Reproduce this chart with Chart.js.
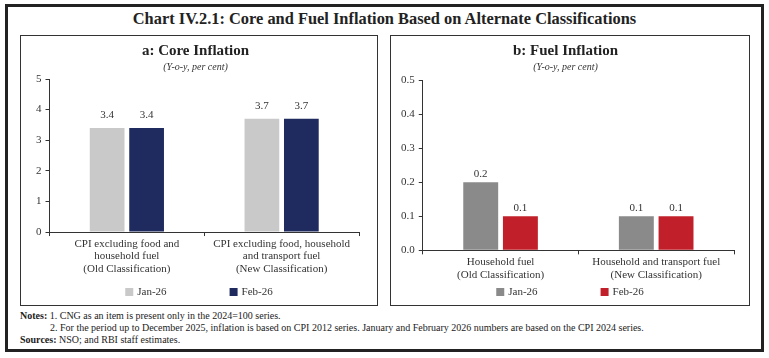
<!DOCTYPE html>
<html>
<head>
<meta charset="utf-8">
<script src="https://cdn.jsdelivr.net/npm/chart.js@4.4.1/dist/chart.umd.min.js"></script>
<style>
  body { margin: 0; background: #fff; font-family: "Liberation Serif", serif; color: #222; }
  #page { position: relative; width: 769px; height: 358px; }
  #frame { position: absolute; left: 5px; top: 4px; width: 759px; height: 348px; border: 3px solid #222; box-sizing: border-box; }
  #mainTitle { position: absolute; left: 0; width: 769px; top: 9px; text-align: center; font-weight: bold; font-size: 16.4px; }
  .panel { position: absolute; top: 35px; height: 271px; border: 1px solid #333; box-sizing: border-box; }
  #panelA { left: 20px; width: 358px; }
  #panelB { left: 390px; width: 360px; }
  .panel canvas { position: absolute; left: 0; top: 0; }
  .note { position: absolute; font-size: 10px; white-space: nowrap; }
  .note b { font-weight: bold; }
</style>
</head>
<body>
<div id="page">
  <div id="frame"></div>
  <div id="mainTitle">Chart IV.2.1: Core and Fuel Inflation Based on Alternate Classifications</div>
  <div class="panel" id="panelA"><canvas id="coreChart" width="356" height="269"></canvas></div>
  <div class="panel" id="panelB"><canvas id="fuelChart" width="358" height="269"></canvas></div>
  <div class="note" style="left:20px; top:310px;"><b>Notes:</b> 1. CNG as an item is present only in the 2024=100 series.</div>
  <div class="note" style="left:50px; top:322px;">2. For the period up to December 2025, inflation is based on CPI 2012 series. January and February 2026 numbers are based on the CPI 2024 series.</div>
  <div class="note" style="left:20px; top:334px;"><b>Sources:</b> NSO; and RBI staff estimates.</div>
</div>
<script>
// panel a: core inflation
const coreLabels = [
  ["CPI excluding food and", "household fuel", "(Old Classification)"],
  ["CPI excluding food, household", "and transport fuel", "(New Classification)"]
];
const coreJan = [3.4, 3.7];
const coreFeb = [3.4, 3.7];
const coreTicks = [0, 1, 2, 3, 4, 5];

// panel b: fuel inflation
const fuelLabels = [
  ["Household fuel", "(Old Classification)"],
  ["Household and transport fuel", "(New Classification)"]
];
const fuelJan = [0.2, 0.1];
const fuelFeb = [0.1, 0.1];
const fuelTicks = [0.0, 0.1, 0.2, 0.3, 0.4, 0.5];

const seriesNames = ["Jan-26", "Feb-26"];
const FONT = "'Liberation Serif', serif";
const INK = "#333";

// values above the bars
const barValues = {
  id: "barValues",
  afterDatasetsDraw(chart, args, opts) {
    const ctx = chart.ctx;
    ctx.save();
    ctx.font = "11px " + FONT;
    ctx.fillStyle = INK;
    ctx.textAlign = "center";
    ctx.textBaseline = "bottom";
    chart.data.datasets.forEach((ds, i) => {
      chart.getDatasetMeta(i).data.forEach((bar, j) => {
        ctx.fillText(ds.data[j].toFixed(1), bar.x, bar.y - opts.gap);
      });
    });
    ctx.restore();
  }
};

// small square legend under the axis, items spread apart
const spreadLegend = {
  id: "spreadLegend",
  afterDraw(chart, args, opts) {
    const ctx = chart.ctx;
    ctx.save();
    ctx.font = "11px " + FONT;
    ctx.textBaseline = "middle";
    const box = 8;
    const items = chart.data.datasets.map(ds => ({ text: ds.label, color: ds.backgroundColor, w: box + 4 + ctx.measureText(ds.label).width }));
    const total = items.reduce((s, it) => s + it.w, 0) + opts.spacing * (items.length - 1);
    let x = chart.width / 2 - total / 2;
    items.forEach(it => {
      ctx.fillStyle = it.color;
      ctx.fillRect(x, opts.y - box / 2, box, box);
      ctx.fillStyle = INK;
      ctx.fillText(it.text, x + box + 4, opts.y);
      x += it.w + opts.spacing;
    });
    ctx.restore();
  }
};

function makeChart(id, labels, jan, feb, colors, ticks, decimals, title, cfg) {
  return new Chart(document.getElementById(id), {
    type: "bar",
    data: {
      labels: labels,
      datasets: [
        { label: seriesNames[0], data: jan, backgroundColor: colors[0] },
        { label: seriesNames[1], data: feb, backgroundColor: colors[1] }
      ]
    },
    options: {
      responsive: false,
      animation: false,
      datasets: { bar: { categoryPercentage: 0.51, barPercentage: 0.88 } },
      layout: { padding: cfg.padding },
      plugins: {
        legend: { display: false },
        tooltip: { enabled: false },
        title: { display: true, text: title, color: "#222", font: { family: FONT, size: 15, weight: "bold" }, padding: { top: 6, bottom: 0 } },
        subtitle: { display: true, text: "(Y-o-y, per cent)", color: INK, font: { family: FONT, size: 10, style: "italic" }, padding: { top: 1, bottom: cfg.subGap } },
        barValues: { gap: cfg.valueGap },
        spreadLegend: { y: 256, spacing: 63 }
      },
      scales: {
        x: {
          grid: { display: true, drawOnChartArea: false, offset: true, tickLength: 4, color: INK },
          border: { display: true, color: INK },
          ticks: { color: INK, font: { family: FONT, size: 11, lineHeight: 1.12 }, maxRotation: 0, autoSkip: false, padding: 2 }
        },
        y: {
          min: ticks[0],
          max: ticks[ticks.length - 1],
          afterBuildTicks: axis => { axis.ticks = ticks.map(v => ({ value: v })); },
          grid: { display: true, drawOnChartArea: false, tickLength: 4, color: INK },
          border: { display: true, color: INK },
          ticks: { color: INK, font: { family: FONT, size: 11 }, padding: 4, callback: v => Number(v).toFixed(decimals) }
        }
      }
    },
    plugins: [barValues, spreadLegend]
  });
}

makeChart("coreChart", coreLabels, coreJan, coreFeb, ["#C9C9C9", "#1F2A5E"], coreTicks, 0,
  "a: Core Inflation", { padding: { left: 11, right: 18, top: 0, bottom: 28 }, subGap: 6, valueGap: 7 });
makeChart("fuelChart", fuelLabels, fuelJan, fuelFeb, ["#8A8A8A", "#C1202A"], fuelTicks, 1,
  "b: Fuel Inflation", { padding: { left: 6, right: 15, top: 0, bottom: 22 }, subGap: 7, valueGap: 3 });
</script>
</body>
</html>
